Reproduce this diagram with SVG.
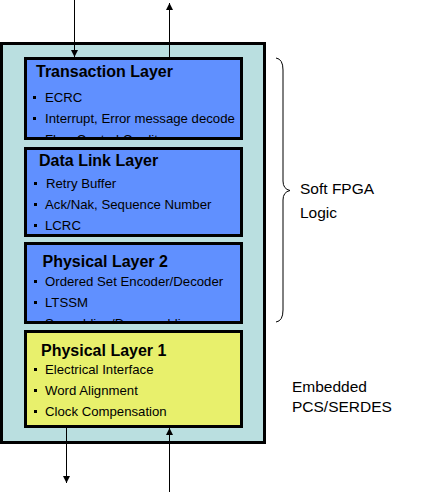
<svg xmlns="http://www.w3.org/2000/svg" width="428" height="492" viewBox="0 0 428 492">
<style>
.box{stroke:#000;stroke-width:3}
.blue{fill:#6090FF}
.yel{fill:#E8F06C}
.title{font-family:"Liberation Sans",Arial,sans-serif;font-weight:bold;font-size:16px;fill:#000}
.item{font-family:"Liberation Sans",Arial,sans-serif;font-size:13.2px;fill:#000}
.lbl{font-family:"Liberation Sans",Arial,sans-serif;font-size:15.5px;fill:#000}
.conn{stroke:#000;stroke-width:1;fill:none}
</style>
<defs>
<marker id="ah" markerUnits="userSpaceOnUse" markerWidth="7" markerHeight="7" refX="7" refY="3.5" orient="auto">
<path d="M0,0 L7,3.5 L0,7 z" fill="#000"/>
</marker>
<clipPath id="c1"><rect x="27" y="60" width="213" height="77"/></clipPath>
<clipPath id="c3"><rect x="27" y="245" width="213" height="76"/></clipPath>
</defs>
<g id="fpga">
<rect class="box" x="1.5" y="43.5" width="263" height="399" fill="#BADFE0"/>
</g>
<g id="transaction">
<rect class="box blue" x="25.5" y="58.5" width="216" height="80"/>
<g clip-path="url(#c1)">
<text class="title" x="36" y="77">Transaction Layer</text>
<rect x="33" y="96" width="3" height="3"/><text class="item" x="45" y="102">ECRC</text>
<rect x="33" y="117" width="3" height="3"/><text class="item" x="45" y="123">Interrupt, Error message decode</text>
<rect x="33" y="138" width="3" height="3"/><text class="item" x="45" y="144">Flow Control Credits</text>
</g>
</g>
<g id="datalink">
<rect class="box blue" x="25.5" y="148.5" width="216" height="87"/>
<text class="title" x="39" y="166">Data Link Layer</text>
<rect x="34" y="182" width="3" height="3"/><text class="item" x="46" y="188">Retry Buffer</text>
<rect x="34" y="203" width="3" height="3"/><text class="item" x="45" y="209">Ack/Nak, Sequence Number</text>
<rect x="34" y="224" width="3" height="3"/><text class="item" x="45" y="230">LCRC</text>
</g>
<g id="phys2">
<rect class="box blue" x="25.5" y="243.5" width="216" height="79"/>
<g clip-path="url(#c3)">
<text class="title" x="42.5" y="267">Physical Layer 2</text>
<rect x="34" y="280" width="3" height="3"/><text class="item" x="45" y="286">Ordered Set Encoder/Decoder</text>
<rect x="34" y="301" width="3" height="3"/><text class="item" x="45" y="307">LTSSM</text>
<rect x="34" y="322" width="3" height="3"/><text class="item" x="45" y="328">Scrambling/Descrambling</text>
</g>
</g>
<g id="phys1">
<rect class="box yel" x="25.5" y="331.5" width="216" height="95"/>
<text class="title" x="41" y="356">Physical Layer 1</text>
<rect x="34" y="368" width="3" height="3"/><text class="item" x="45" y="374">Electrical Interface</text>
<rect x="34" y="389" width="3" height="3"/><text class="item" x="45" y="395">Word Alignment</text>
<rect x="34" y="410" width="3" height="3"/><text class="item" x="45" y="416">Clock Compensation</text>
</g>
<g id="connectors">
<line class="conn" x1="74.5" y1="0" x2="74.5" y2="57" marker-end="url(#ah)"/>
<line class="conn" x1="169.5" y1="57" x2="169.5" y2="3" marker-end="url(#ah)"/>
<line class="conn" x1="66.5" y1="428" x2="66.5" y2="483" marker-end="url(#ah)"/>
<line class="conn" x1="169.5" y1="492" x2="169.5" y2="428" marker-end="url(#ah)"/>
</g>
<g id="brace">
<path class="conn" d="M276,58 Q283,59 283,70 L283,181 Q283,189 290,190.5 Q283,192 283,200 L283,310 Q283,321 276,322"/>
</g>
<g id="labels">
<text class="lbl" x="300" y="194">Soft FPGA</text>
<text class="lbl" x="300" y="218">Logic</text>
<text class="lbl" x="292" y="392">Embedded</text>
<text class="lbl" x="292" y="412">PCS/SERDES</text>
</g>
</svg>
